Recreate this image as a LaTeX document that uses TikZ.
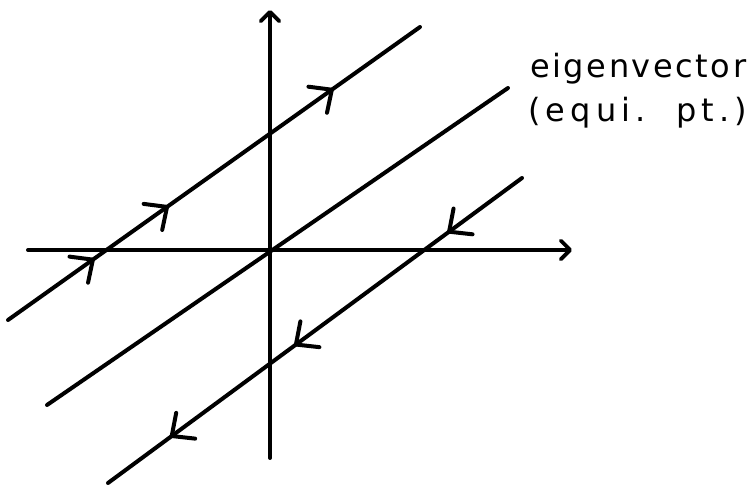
\documentclass[tikz,border=0pt]{standalone}
\usepackage{fontspec}
\setmainfont{DejaVu Sans}
\usetikzlibrary{arrows.meta,decorations.markings}
\tikzset{
  ink/.style={line width=3pt, line cap=round, line join=round},
  barb/.tip={Straight Barb[length=13pt, width=24pt, line width=3pt, round]},
  axtip/.tip={Straight Barb[length=7pt, width=14pt, line width=2.8pt, round]},
  flow/.style n args={3}{ink, postaction={decorate}, decoration={markings,
      mark=at position #1 with {\arrow{barb}},
      mark=at position #2 with {\arrow{barb}},
      mark=at position #3 with {\arrow{barb}}}},
  lbl/.style={font=\fontsize{24}{28}\selectfont, inner sep=0pt, anchor=base west}
}
\begin{document}
\begin{tikzpicture}[x=0.75pt, y=-0.75pt]
\useasboundingbox (0,0) rectangle (754,488);
% axes
\coordinate (xl) at (28,250);
\coordinate (xr) at (572,250);
\coordinate (yb) at (270,458);
\coordinate (yt) at (270,10);
\draw[ink, -{axtip}] (xl) -- (xr);
\draw[ink, -{axtip}] (yb) -- (yt);
% trajectories
\coordinate (a1) at (8,320);
\coordinate (a2) at (420,27);
\coordinate (b1) at (47,405);
\coordinate (b2) at (508,88);
\coordinate (c1) at (522,178);
\coordinate (c2) at (108,483);
\draw[flow={0.21}{0.39}{0.79}] (a1) -- (a2);
\draw[ink] (b1) -- (b2);
\draw[flow={0.18}{0.55}{0.85}] (c1) -- (c2);
% label
\node[lbl] (t1) at (530,78) {\addfontfeature{LetterSpace=8}eigenvector};
\node[lbl] (t2) at (528,122) {\addfontfeature{LetterSpace=16}(equi.\ \ pt.\,)};
\end{tikzpicture}
\end{document}
